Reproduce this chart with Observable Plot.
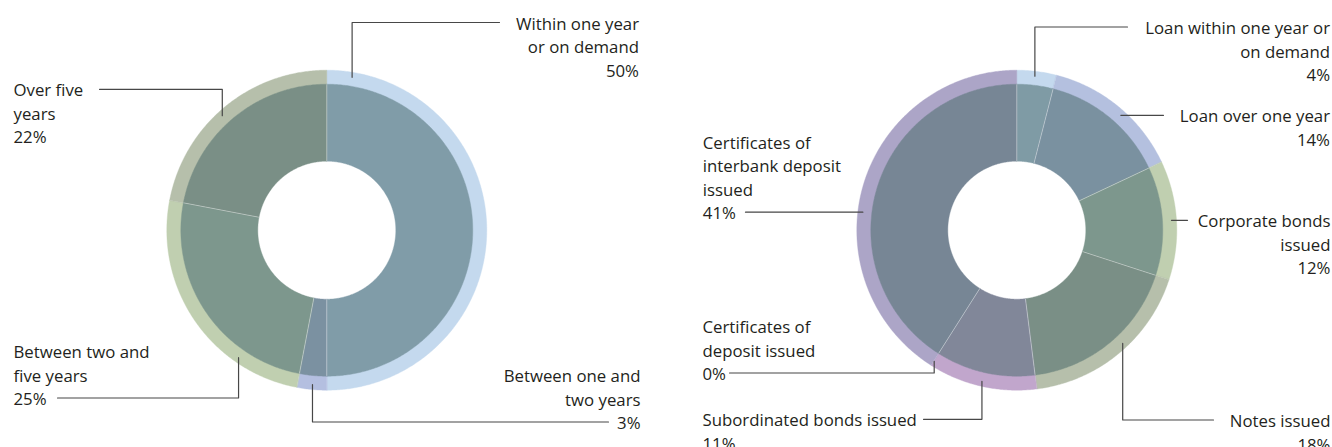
<!DOCTYPE html>
<html>
<head>
<meta charset="utf-8">
<script src="https://cdn.jsdelivr.net/npm/d3@7"></script>
<script src="https://cdn.jsdelivr.net/npm/@observablehq/plot@0.6"></script>
<style>
  html, body { margin: 0; padding: 0; background: #fff; }
  #wrap { display: flex; width: 1332px; height: 447px; overflow: hidden; }
  #wrap svg { display: block; flex: none; }
</style>
</head>
<body>
<div id="wrap"></div>
<script>
// ---------- DATA ----------
// Left donut: maturity breakdown
const leftCategories = ["Within one year\nor on demand", "Between one and\ntwo years", "Between two and\nfive years", "Over five\nyears"];
const leftValues = [50, 3, 25, 22];

// Right donut: funding breakdown
const rightCategories = [
  "Loan within one year or\non demand",
  "Loan over one year",
  "Corporate bonds\nissued",
  "Notes issued",
  "Subordinated bonds issued",
  "Certificates of\ndeposit issued",
  "Certificates of\ninterbank deposit\nissued"
];
const rightValues = [4, 14, 12, 18, 11, 0, 41];

// ---------- STYLES ----------
const leftInnerColors = ["#809ca8", "#7b91a1", "#7d978d", "#7a8f86"];
const leftRingColors  = ["#c4d9ee", "#b4bfe0", "#c0cfb0", "#b6bfab"];
const rightInnerColors = ["#7f9ba5", "#7a91a0", "#7d978d", "#7a8f86", "#818799", "#7c8a98", "#778695"];
const rightRingColors  = ["#c4d9ee", "#b4c0df", "#c0cfb0", "#b6bfab", "#c1a6cc", "#b8a5c9", "#aca5c7"];

// ---------- LAYOUT (annotation placement) ----------
// side: which way the text runs; tx: text edge; y1: centre of first text line;
// attach: text line the leader attaches to; lx: leader end near text; hook: ring angle (deg) or null = straight
const leftLayout = [
  {side: "right", tx: 638.5, y1: 21.5,  attach: 0, lx: 499, hook: 9.4},
  {side: "right", tx: 640,   y1: 374,   attach: 2, lx: 608, hook: 185.3},
  {side: "left",  tx: 13,    y1: 350,   attach: 2, lx: 57,  hook: 214.7},
  {side: "left",  tx: 13,    y1: 88.3,  attach: 0, lx: 99,  hook: 317.6}
];
const rightLayout = [
  {side: "right", tx: 663.5, y1: 26,    attach: 0, lx: 461, hook: 6.7},
  {side: "right", tx: 663.5, y1: 114.3, attach: 0, lx: 497, hook: null},
  {side: "right", tx: 664,   y1: 219.3, attach: 0, lx: 521, hook: null},
  {side: "right", tx: 664,   y1: 419,   attach: 0, lx: 547, hook: 136.9},
  {side: "left",  tx: 36,    y1: 418.3, attach: 0, lx: 257, hook: 193},
  {side: "left",  tx: 36,    y1: 325,   attach: 2, lx: 63,  hook: 212.2},
  {side: "left",  tx: 36.3,  y1: 140.7, attach: 3, lx: 79,  hook: null}
];

const W = 666, H = 447;
const R_HOLE = 69, R_IN = 146, R_OUT = 160, R_HOOK = 155;
const FONT = 16.8, LINE_H = 23.5;
const FONT_FAMILY = "'Open Sans', 'Noto Sans', sans-serif";

function polar(cx, cy, r, deg) {
  const a = deg * Math.PI / 180;
  return [cx + r * Math.sin(a), cy - r * Math.cos(a)];
}

function donut({categories, values, innerColors, ringColors, layout, cx, cy}) {
  const total = d3.sum(values);
  let acc = 0;
  const slices = values.map((v, i) => {
    const a0 = acc / total * 360; acc += v;
    return {i, a0, a1: acc / total * 360};
  });

  const innerPts = [], ringPts = [];
  function poly(arr, id, a0, a1, r0, r1, color) {
    if (a1 - a0 <= 0) return;
    const n = Math.max(2, Math.ceil((a1 - a0) / 0.5));
    for (let k = 0; k <= n; k++) {
      const [x, y] = polar(cx, cy, r1, a0 + (a1 - a0) * k / n);
      arr.push({id, x, y, color});
    }
    for (let k = n; k >= 0; k--) {
      const [x, y] = polar(cx, cy, r0, a0 + (a1 - a0) * k / n);
      arr.push({id, x, y, color});
    }
  }
  slices.forEach(s => {
    poly(innerPts, "i" + s.i, s.a0, s.a1, R_HOLE, R_IN, innerColors[s.i]);
    poly(ringPts, "r" + s.i, s.a0, s.a1, R_IN - 0.5, R_OUT, ringColors[s.i]);
  });

  const seps = slices.filter(s => values[s.i] > 0).map(s => {
    const [x1, y1] = polar(cx, cy, R_HOLE, s.a0);
    const [x2, y2] = polar(cx, cy, R_IN, s.a0);
    return {x1, y1, x2, y2};
  });

  const texts = layout.map((L, i) => {
    const text = categories[i] + "\n" + values[i] + "%";
    const n = text.split("\n").length;
    return {side: L.side, x: L.tx, y: L.y1 + (n - 1) * LINE_H / 2, text};
  });

  const leaderPts = [];
  layout.forEach((L, i) => {
    const ly = L.y1 + L.attach * LINE_H + 0.5;
    leaderPts.push({id: i, x: L.lx, y: ly});
    if (L.hook == null) {
      const dy = ly - cy;
      const dx = Math.sqrt(R_HOOK * R_HOOK - dy * dy) * (L.side === "right" ? 1 : -1);
      leaderPts.push({id: i, x: cx + dx, y: ly});
    } else {
      const [px, py] = polar(cx, cy, R_HOOK, L.hook);
      leaderPts.push({id: i, x: px, y: ly});
      leaderPts.push({id: i, x: px, y: py});
    }
  });

  return Plot.plot({
    width: W, height: H, margin: 0,
    x: {domain: [0, W], range: [0, W], axis: null},
    y: {domain: [0, H], range: [0, H], axis: null},
    color: {type: "identity"},
    style: {fontFamily: FONT_FAMILY, fontSize: FONT + "px", background: "#fff", overflow: "hidden"},
    marks: [
      Plot.line(ringPts, {x: "x", y: "y", z: "id", fill: "color", stroke: "color", strokeWidth: 0.4, curve: "linear-closed"}),
      Plot.line(innerPts, {x: "x", y: "y", z: "id", fill: "color", stroke: "color", strokeWidth: 0.4, curve: "linear-closed"}),
      Plot.link(seps, {x1: "x1", y1: "y1", x2: "x2", y2: "y2", stroke: "#ffffff", strokeOpacity: 0.55, strokeWidth: 0.7}),
      Plot.line(leaderPts, {x: "x", y: "y", z: "id", stroke: "#474747", strokeWidth: 1.2}),
      Plot.text(texts.filter(d => d.side === "right"), {x: "x", y: "y", text: "text", textAnchor: "end", lineAnchor: "middle", lineHeight: LINE_H / FONT, fontSize: FONT, fill: "#231f20"}),
      Plot.text(texts.filter(d => d.side === "left"), {x: "x", y: "y", text: "text", textAnchor: "start", lineAnchor: "middle", lineHeight: LINE_H / FONT, fontSize: FONT, fill: "#231f20"})
    ]
  });
}

const wrap = document.getElementById("wrap");
wrap.appendChild(donut({categories: leftCategories, values: leftValues, innerColors: leftInnerColors, ringColors: leftRingColors, layout: leftLayout, cx: 326.3, cy: 229.7}));
wrap.appendChild(donut({categories: rightCategories, values: rightValues, innerColors: rightInnerColors, ringColors: rightRingColors, layout: rightLayout, cx: 350.3, cy: 229.7}));
</script>
</body>
</html>
